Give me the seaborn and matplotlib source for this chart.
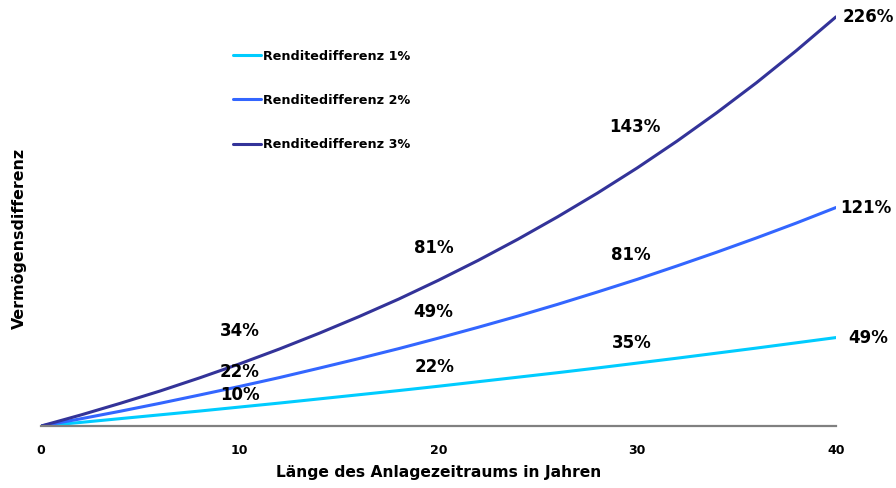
import pandas as pd
import seaborn as sns
import matplotlib.pyplot as plt

years = list(range(0, 41, 2))
diff_1 = [0, 2.0, 4.1, 6.2, 8.3, 10.5, 12.7, 15.0, 17.3, 19.6, 22.0,
          24.5, 27.0, 29.5, 32.1, 34.8, 37.5, 40.3, 43.1, 46.0, 48.9]
diff_2 = [0, 4.0, 8.2, 12.6, 17.2, 21.9, 26.8, 32.0, 37.3, 42.8, 48.6,
          54.6, 60.8, 67.3, 74.1, 81.1, 88.5, 96.1, 104.0, 112.2, 120.8]
diff_3 = [0, 6.1, 12.6, 19.4, 26.7, 34.4, 42.6, 51.3, 60.5, 70.2, 80.6,
          91.6, 103.3, 115.7, 128.8, 142.7, 157.5, 173.2, 189.8, 207.5, 226.2]
series = ['Renditedifferenz 1%', 'Renditedifferenz 2%', 'Renditedifferenz 3%']
colors = ['#00CCFF', '#3366FF', '#333399']

label_years = [10, 20, 30, 40]
labels_1 = ['10%', '22%', '35%', '49%']
labels_2 = ['22%', '49%', '81%', '121%']
labels_3 = ['34%', '81%', '143%', '226%']

df = pd.concat([
    pd.DataFrame({'Jahr': years, 'Wert': v, 'Serie': s})
    for v, s in zip([diff_1, diff_2, diff_3], series)
])

sns.set_style('white')
plt.rcParams['font.family'] = ['DejaVu Sans']
plt.rcParams['font.weight'] = 'bold'
plt.rcParams['text.color'] = 'black'
plt.rcParams['axes.labelcolor'] = 'black'
plt.rcParams['xtick.labelcolor'] = 'black'

fig, ax = plt.subplots(figsize=(8.96, 4.88), dpi=100)
fig.subplots_adjust(left=0.0458, right=0.933, bottom=0.127, top=0.9795)

sns.lineplot(data=df, x='Jahr', y='Wert', hue='Serie', palette=colors,
             linewidth=2.2, ax=ax)

# Datenbeschriftungen (Versatz in Pixeln)
offsets = {
    0: [(0, 12), (-4, 19), (-5, 20), (32, 0)],
    1: [(0, 14), (-5, 26), (-6, 24), (30, 0)],
    2: [(0, 33), (-5, 32), (-2, 41), (32, 0)],
}
for i, labs in enumerate([labels_1, labels_2, labels_3]):
    vals = [diff_1, diff_2, diff_3][i]
    for j, (yr, txt) in enumerate(zip(label_years, labs)):
        val = vals[years.index(yr)]
        ax.annotate(txt, xy=(yr, val), xytext=offsets[i][j],
                    textcoords='offset pixels', ha='center', va='center',
                    fontsize=12, fontweight='bold', color='black')

ax.set_xlim(0, 40)
ax.set_ylim(0, 230)
ax.set_xticks([0, 10, 20, 30, 40])
ax.set_yticks([])
ax.tick_params(axis='x', direction='out', length=4, width=1.2, color='#808080',
               labelcolor='black', labelsize=9, pad=9)
for lab in ax.get_xticklabels():
    lab.set_fontweight('bold')
for side in ['top', 'right', 'left']:
    ax.spines[side].set_visible(False)
ax.spines['bottom'].set_color('#808080')
ax.spines['bottom'].set_linewidth(1.6)

ax.set_xlabel('Länge des Anlagezeitraums in Jahren', fontsize=11.2,
              fontweight='bold', labelpad=6, color='black')
ax.set_ylabel('Vermögensdifferenz', fontsize=11.4, fontweight='bold', color='black')
ax.yaxis.set_label_coords(-0.018, 0.45)

leg = ax.legend(loc='upper left', bbox_to_anchor=(0.2415, 0.905), frameon=False,
                fontsize=9.2, handlelength=2.2, handletextpad=0.15,
                labelspacing=2.45, borderpad=0, borderaxespad=0)
for t in leg.get_texts():
    t.set_fontweight('bold')
    t.set_color('black')

fig.savefig('out.png', dpi=100)
